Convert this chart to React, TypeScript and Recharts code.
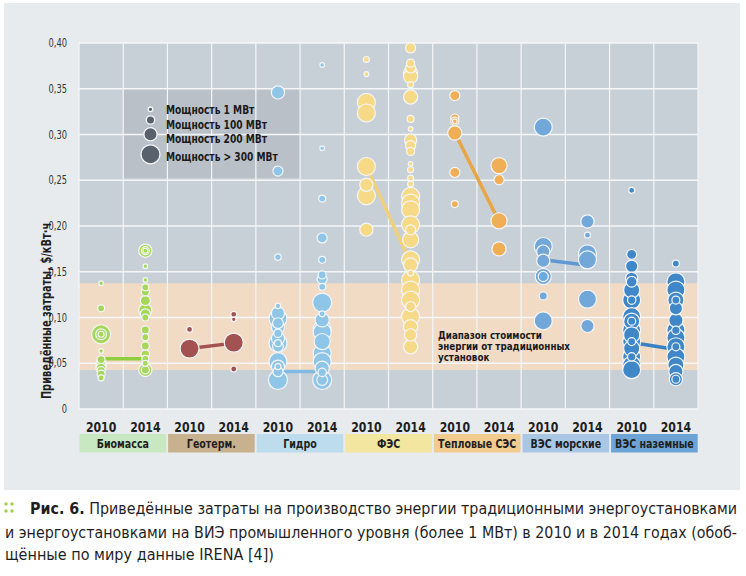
import { ReferenceArea, ReferenceLine, Scatter, ScatterChart, XAxis, YAxis } from 'recharts';

const years = ['2010', '2014'];
const categories = ['Биомасса', 'Геотерм.', 'Гидро', 'ФЭС', 'Тепловые СЭС', 'ВЭС морские', 'ВЭС наземные'];
const yTicks = [0, 0.05, 0.1, 0.15, 0.2, 0.25, 0.3, 0.35, 0.4];

// legend: capacity (MW) -> marker
const legendCapacities = [1, 100, 200, 300];
const legendLabels = ['Мощность 1 МВт', 'Мощность 100 МВт', 'Мощность 200 МВт', 'Мощность > 300 МВт'];

// [cost $/kWh, capacity MW]
const biomass2010: [number, number][] = [
  [0.1375, 1], [0.11, 63], [0.0817, 300], [0.0817, 150], [0.0817, 37], [0.0634, 1],
  [0.054, 90], [0.05, 135], [0.047, 135], [0.0445, 135], [0.042, 90], [0.038, 90], [0.034, 37],
];
const biomass2014: [number, number][] = [
  [0.173, 200], [0.173, 90], [0.173, 10], [0.156, 1], [0.141, 1], [0.133, 63], [0.128, 90],
  [0.1185, 135], [0.108, 200], [0.104, 135], [0.1, 63], [0.0864, 90], [0.0784, 63], [0.0689, 90],
  [0.06, 100], [0.0547, 63], [0.0427, 200], [0.0427, 90], [0.05, 37],
];
const geo2010: [number, number][] = [[0.087, 37], [0.066, 300]];
const geo2014: [number, number][] = [[0.1035, 37], [0.098, 1], [0.0725, 300], [0.0437, 37]];
const hydro2010: [number, number][] = [
  [0.346, 200], [0.26, 135], [0.166, 50], [0.1127, 20], [0.1047, 200], [0.099, 283], [0.0938, 150],
  [0.0894, 200], [0.0828, 100], [0.0773, 200], [0.0719, 283], [0.0719, 63], [0.0682, 150],
  [0.0518, 283], [0.0463, 200], [0.0463, 37], [0.0408, 135], [0.0317, 300],
];
const hydro2014: [number, number][] = [
  [0.376, 1], [0.285, 1], [0.23, 63], [0.187, 135], [0.163, 63], [0.1465, 90], [0.142, 135],
  [0.1335, 63], [0.1163, 300], [0.104, 37], [0.0974, 217], [0.0872, 283], [0.084, 283],
  [0.0737, 250], [0.061, 283], [0.0518, 283], [0.0445, 217], [0.04, 100], [0.0317, 300], [0.0317, 150],
];
const pv2010: [number, number][] = [
  [0.382, 37], [0.366, 10], [0.335, 283], [0.3235, 283], [0.265, 283], [0.245, 200], [0.233, 283], [0.196, 200],
];
const pv2014: [number, number][] = [
  [0.3946, 135], [0.378, 90], [0.3727, 135], [0.367, 217], [0.3636, 217], [0.3545, 37], [0.341, 217],
  [0.317, 63], [0.306, 1], [0.294, 180], [0.2877, 135], [0.2815, 90], [0.268, 1], [0.2615, 37],
  [0.2524, 37], [0.246, 37], [0.2323, 283], [0.225, 283], [0.2177, 283], [0.2013, 283], [0.1958, 135],
  [0.185, 250], [0.163, 283], [0.1575, 217], [0.1485, 37], [0.141, 283], [0.13, 283], [0.119, 283],
  [0.112, 135], [0.101, 283], [0.09, 217], [0.081, 180], [0.068, 217],
];
const csp2010: [number, number][] = [
  [0.3425, 135], [0.318, 90], [0.3145, 90], [0.3145, 1], [0.3016, 217], [0.2585, 135], [0.224, 63],
];
const csp2014: [number, number][] = [[0.266, 250], [0.2505, 135], [0.2057, 250], [0.175, 217]];
const offshore2010: [number, number][] = [
  [0.308, 283], [0.1776, 283], [0.172, 200], [0.162, 200], [0.1448, 250], [0.1448, 135], [0.1236, 90], [0.0963, 283],
];
const offshore2014: [number, number][] = [
  [0.205, 200], [0.19, 37], [0.1696, 283], [0.163, 283], [0.12, 283], [0.0908, 200],
];
const onshore2010: [number, number][] = [
  [0.239, 37], [0.169, 135], [0.156, 180], [0.143, 180], [0.139, 150], [0.13, 250], [0.119, 283],
  [0.119, 100], [0.101, 283], [0.096, 250], [0.096, 90], [0.086, 283], [0.081, 250], [0.0737, 283],
  [0.0737, 90], [0.066, 250], [0.057, 283], [0.057, 100], [0.048, 283], [0.043, 283],
];
const onshore2014: [number, number][] = [
  [0.159, 63], [0.139, 283], [0.13, 283], [0.119, 250], [0.119, 90], [0.11, 200], [0.097, 217],
  [0.086, 283], [0.086, 100], [0.078, 283], [0.068, 283], [0.068, 90], [0.057, 283], [0.048, 250],
  [0.041, 217], [0.0325, 200], [0.0325, 90],
];

// weighted averages per category
const weightedAvg2010 = [0.055, 0.066, 0.041, 0.265, 0.302, 0.163, 0.0727];
const weightedAvg2014 = [0.055, 0.072, 0.041, 0.16, 0.205, 0.157, 0.065];

// range of conventional generation
const fossilRange = [0.0427, 0.1375];

const bandLabel = ['Диапазон стоимости', 'энергии от традиционных', 'установок'];
const captionLines = [
  'Приведённые затраты на производство энергии традиционными энергоустановками',
  'и энергоустановками на ВИЭ промышленного уровня (более 1 МВт) в 2010 и в 2014 годах (обоб-',
  'щённые по миру данные IRENA [4])',
];

const series = [
  [biomass2010, biomass2014],
  [geo2010, geo2014],
  [hydro2010, hydro2014],
  [pv2010, pv2014],
  [csp2010, csp2014],
  [offshore2010, offshore2014],
  [onshore2010, onshore2014],
];

const dotColors = ['#a6d75b', '#a35252', '#8fc6e7', '#f6da88', '#f0ae55', '#72a7d9', '#3f87c7'];
const lineColors = ['#8fcf3d', '#a35252', '#7fbbe2', '#f0d07c', '#e9a444', '#5f98d2', '#3a80c2'];
const boxColors = ['#c7e8c1', '#c8b18f', '#bddced', '#f2e6a1', '#f1cc8e', '#a9c7e5', '#6ea3d6'];

const narrow = "'DejaVu Sans Condensed', sans-serif";

const legendMarkR = [2.3, 4.2, 6.6, 9.5];
function radius(mw: number) {
  if (mw <= legendCapacities[0]) return legendMarkR[0];
  for (let i = 1; i < legendCapacities.length; i++) {
    if (mw <= legendCapacities[i]) {
      const t = (mw - legendCapacities[i - 1]) / (legendCapacities[i] - legendCapacities[i - 1]);
      return legendMarkR[i - 1] + t * (legendMarkR[i] - legendMarkR[i - 1]);
    }
  }
  return legendMarkR[legendMarkR.length - 1];
}

const fmt = (v: number) => (v === 0 ? '0' : v.toFixed(2).replace('.', ','));

function YearTick(props: any) {
  const { x, y, payload } = props;
  return (
    <text
      transform={`translate(${x},${y + 15}) scale(0.9,1)`}
      textAnchor="middle"
      fontFamily={narrow}
      fontWeight={700}
      fontSize={13.5}
      fill="#1f1f1f"
    >
      {years[Math.floor(payload.value) % 2]}
    </text>
  );
}

function CostTick(props: any) {
  const { x, y, payload } = props;
  return (
    <text
      transform={`translate(${x},${y + 4}) scale(0.8,1)`}
      textAnchor="end"
      fontFamily={narrow}
      fontSize={11.5}
      fill="#333"
    >
      {fmt(payload.value)}
    </text>
  );
}

export default function App() {
  const xTicks = Array.from({ length: 14 }, (_, i) => i + 0.5);
  const bounds = Array.from({ length: 15 }, (_, i) => i);

  return (
    <div style={{ position: 'absolute', left: 0, top: 0, width: 746, height: 576, background: '#fff', overflow: 'hidden' }}>
      <div style={{ position: 'absolute', left: 4, top: 3, width: 736, height: 487, background: '#e7ebee' }} />
      <div style={{ position: 'absolute', left: 0, top: 0 }}>
        <ScatterChart width={746} height={490} margin={{ top: 43, right: 48, bottom: 0, left: 0 }}>
          <XAxis
            type="number"
            dataKey="x"
            domain={[0, 14]}
            ticks={xTicks}
            interval={0}
            axisLine={false}
            tickLine={false}
            height={81}
            tick={<YearTick />}
          />
          <YAxis
            type="number"
            dataKey="y"
            domain={[0, 0.4]}
            ticks={yTicks}
            interval={0}
            axisLine={false}
            tickLine={false}
            width={79}
            tickMargin={6}
            tick={<CostTick />}
          />
          <ReferenceArea x1={0} x2={14} y1={0} y2={0.4} fill="#c8d0d7" fillOpacity={1} stroke="none" />
          <ReferenceArea x1={0} x2={14} y1={fossilRange[0]} y2={fossilRange[1]} fill="#f1dbc5" fillOpacity={1} stroke="none" />
          {yTicks.map((t) => (
            <ReferenceLine key={'h' + t} y={t} stroke="#f4f6f8" strokeWidth={1.4} />
          ))}
          {bounds.map((b) => (
            <ReferenceLine key={'v' + b} x={b} stroke="#f4f6f8" strokeWidth={1.2} />
          ))}
          <ReferenceArea x1={1} x2={5} y1={0.2525} y2={0.35} fill="#b9c0c8" fillOpacity={1} stroke="none" />
          {weightedAvg2010.map((a, c) => (
            <Scatter
              key={'avg' + c}
              data={[
                { x: c * 2 + 0.5, y: a },
                { x: c * 2 + 1.5, y: weightedAvg2014[c] },
              ]}
              line={{ stroke: lineColors[c], strokeWidth: 3.5 }}
              shape={() => <g />}
              isAnimationActive={false}
            />
          ))}
          {series.map((pair, c) =>
            pair.map((pts, yr) => {
              const data = pts
                .map(([cost, mw]) => ({ x: c * 2 + yr + 0.5, y: cost, mw }))
                .sort((a, b) => b.mw - a.mw);
              return (
                <Scatter
                  key={'s' + c + yr}
                  data={data}
                  isAnimationActive={false}
                  shape={(p: any) => (
                    <circle
                      cx={p.cx}
                      cy={p.cy}
                      r={radius(p.payload.mw)}
                      fill={dotColors[c]}
                      stroke="#f4f6f8"
                      strokeWidth={1.2}
                    />
                  )}
                />
              );
            })
          )}
        </ScatterChart>
      </div>

      <svg style={{ position: 'absolute', left: 0, top: 0 }} width={746} height={576}>
        <text
          transform="translate(51,311) rotate(-90) scale(0.78,1)"
          textAnchor="middle"
          fontFamily={narrow}
          fontWeight={700}
          fontSize={14}
          fill="#1f1f1f"
        >
          Приведённые затраты, $/кВт·ч
        </text>
        {legendCapacities.map((mw, i) => (
          <circle key={'lc' + i} cx={150.5} cy={[109.3, 120, 134.3, 154.3][i]} r={radius(mw)} fill="#59626c" stroke="#f4f6f8" strokeWidth={1.3} />
        ))}
        {legendLabels.map((l, i) => (
          <text
            key={'lt' + i}
            transform={`translate(166,${[113.8, 128.6, 143.4, 161][i]}) scale(0.78,1)`}
            fontFamily={narrow}
            fontWeight={700}
            fontSize={13}
            fill="#1a1a1a"
          >
            {l}
          </text>
        ))}
        {bandLabel.map((l, i) => (
          <text
            key={'bl' + i}
            transform={`translate(438,${338.5 + i * 11.3}) scale(0.9,1)`}
            fontFamily={narrow}
            fontWeight={700}
            fontSize={10.8}
            fill="#1a1a1a"
          >
            {l}
          </text>
        ))}
        {categories.map((c, i) => (
          <g key={c}>
            <rect x={79.5 + i * 88.6} y={434} width={86.6} height={18.5} fill={boxColors[i]} />
            <text
              transform={`translate(${122.8 + i * 88.6},447.5) scale(0.88,1)`}
              textAnchor="middle"
              fontFamily={narrow}
              fontWeight={700}
              fontSize={12}
              fill="#1f1f1f"
            >
              {c}
            </text>
          </g>
        ))}
        {[[6, 504], [6, 511], [12, 504], [12, 511]].map(([cx, cy], i) => (
          <circle key={'d' + i} cx={cx} cy={cy} r={1.7} fill="#a3cf48" />
        ))}
        <text x={30} y={513.5} textLength={707} lengthAdjust="spacingAndGlyphs" fontFamily={narrow} fontSize={15.5} fill="#1f1f1f">
          <tspan fontWeight={700}>Рис. 6.</tspan> {captionLines[0]}
        </text>
        <text x={5} y={537.5} textLength={732} lengthAdjust="spacingAndGlyphs" fontFamily={narrow} fontSize={15.5} fill="#1f1f1f">
          {captionLines[1]}
        </text>
        <text x={5} y={559.5} textLength={269} lengthAdjust="spacingAndGlyphs" fontFamily={narrow} fontSize={15.5} fill="#1f1f1f">
          {captionLines[2]}
        </text>
      </svg>
    </div>
  );
}
